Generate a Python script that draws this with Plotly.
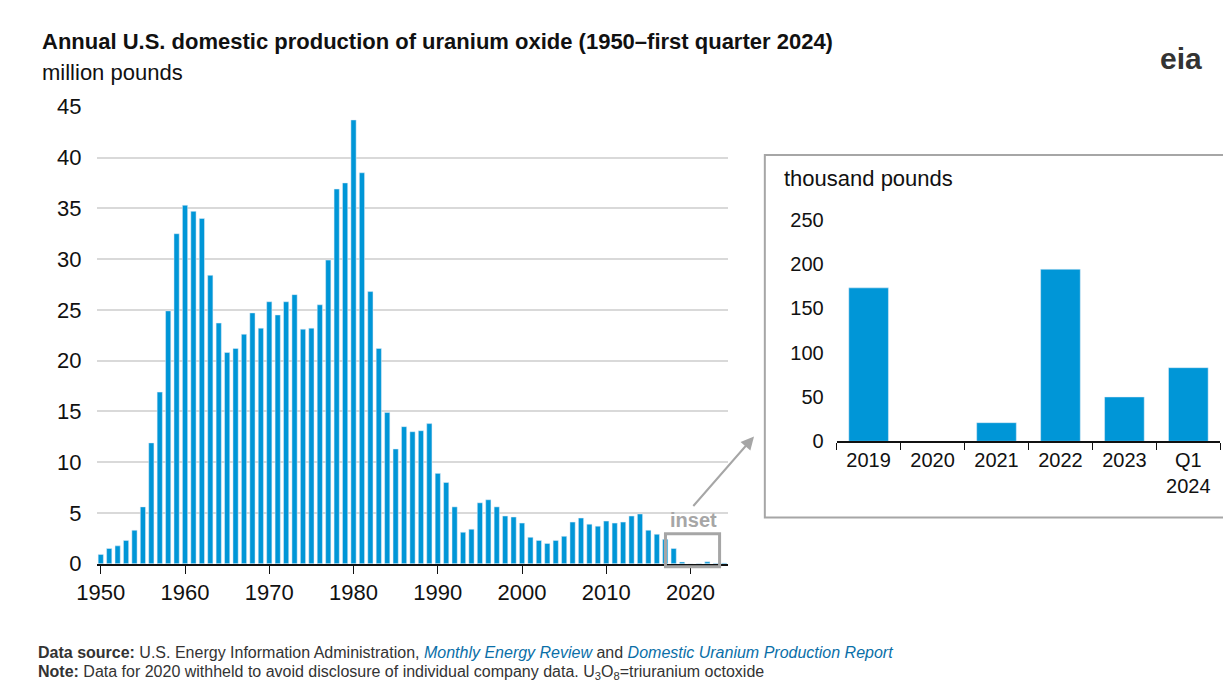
import plotly.graph_objects as go

years = list(range(1950, 2025))
production_million_lb = [0.92, 1.5, 1.76, 2.3, 3.3, 5.6, 11.9, 16.9, 24.9, 32.5,
    35.3, 34.7, 34.0, 28.4, 23.7, 20.8, 21.2, 22.6, 24.7, 23.2,
    25.8, 24.5, 25.8, 26.5, 23.1, 23.2, 25.5, 29.9, 36.9, 37.5,
    43.7, 38.5, 26.8, 21.2, 14.9, 11.3, 13.5, 13.0, 13.1, 13.8,
    8.9, 8.0, 5.6, 3.1, 3.4, 6.0, 6.3, 5.6, 4.7, 4.6,
    4.0, 2.6, 2.3, 2.0, 2.3, 2.7, 4.1, 4.5, 3.9, 3.7,
    4.2, 4.0, 4.1, 4.7, 4.9, 3.3, 2.9, 2.4, 1.5, 0.17,
    0.0, 0.02, 0.19, 0.05, 0.08]
inset_labels = ["2019", "2020", "2021", "2022", "2023", "Q1<br>2024"]
inset_thousand_lb = [173, None, 21, 194, 50, 83]
main_ticks = [1950, 1960, 1970, 1980, 1990, 2000, 2010, 2020]

W, H = 1231, 696
px = lambda x: x / W
py = lambda y: 1 - y / H
blue = "#0096d7"
font = "Liberation Sans, Arial, sans-serif"

fig = go.Figure()
fig.add_bar(x=years, y=production_million_lb, marker_color=blue, width=0.62,
            xaxis="x", yaxis="y", hoverinfo="x+y")
fig.add_bar(x=inset_labels, y=inset_thousand_lb, marker_color=blue, width=0.62,
            xaxis="x2", yaxis="y2")

fig.update_layout(
    width=W, height=H, margin=dict(l=0, r=0, t=0, b=0),
    paper_bgcolor="white", plot_bgcolor="white", showlegend=False,
    font=dict(family=font, color="#111"),
    xaxis=dict(domain=[px(69.7), px(712)], range=[1949.5, 2024.5],
               tickvals=main_ticks, ticks="outside", ticklen=8, tickcolor="#111",
               showline=True, linecolor="#111", linewidth=2, showgrid=False,
               tickfont=dict(size=22), anchor="y"),
    yaxis=dict(domain=[py(564), py(90)], range=[0, 45], dtick=5,
               gridcolor="#d9d9d9", gridwidth=2, showline=False, zeroline=False,
               tickfont=dict(size=22), ticklabelstandoff=14, anchor="x"),
    xaxis2=dict(domain=[px(822), px(1212)], type="category",
                tickson="boundaries", ticks="outside", ticklen=7, tickcolor="#111",
                showline=True, linecolor="#111", linewidth=2, showgrid=False,
                tickfont=dict(size=20), anchor="y2"),
    yaxis2=dict(domain=[py(437), py(207)], range=[0, 250], dtick=50,
                showgrid=False, showline=False, zeroline=False,
                tickfont=dict(size=20), ticklabelstandoff=12, anchor="x2"),
    shapes=[
        dict(type="rect", xref="paper", yref="paper", x0=px(749), x1=px(1223),
             y0=py(516), y1=py(140), line=dict(color="#a6a6a6", width=2)),
        dict(type="rect", xref="paper", yref="paper", x0=px(648), x1=px(703),
             y0=py(567), y1=py(533), line=dict(color="#a6a6a6", width=3)),
    ],
    annotations=[
        dict(text="<b>Annual U.S. domestic production of uranium oxide (1950–first quarter 2024)</b>",
             x=px(12), y=py(22), xref="paper", yref="paper", xanchor="left",
             yanchor="middle", showarrow=False, font=dict(size=22)),
        dict(text="million pounds", x=px(12), y=py(54), xref="paper", yref="paper",
             xanchor="left", yanchor="middle", showarrow=False, font=dict(size=22)),
        dict(text="thousand pounds", x=px(766), y=py(164), xref="paper", yref="paper",
             xanchor="left", yanchor="middle", showarrow=False, font=dict(size=22)),
        dict(text="<b>inset</b>", x=px(676), y=py(519), xref="paper", yref="paper",
             xanchor="center", yanchor="middle", showarrow=False,
             font=dict(size=20, color="#a6a6a6")),
        dict(text="", x=px(738), y=py(432), ax=-62, ay=71,
             xref="paper", yref="paper",
             showarrow=True, arrowhead=2, arrowsize=1.3, arrowwidth=2,
             arrowcolor="#a6a6a6"),
        dict(text="<b>eia</b>", x=px(1172), y=py(40), xref="paper", yref="paper",
             xanchor="center", yanchor="middle", showarrow=False,
             font=dict(size=30, color="#333")),
        dict(text="<b>Data source:</b> U.S. Energy Information Administration, "
                  "<i><span style='color:#0a6fa8'>Monthly Energy Review</span></i> and "
                  "<i><span style='color:#0a6fa8'>Domestic Uranium Production Report</span></i>",
             x=px(8), y=py(656), xref="paper", yref="paper", xanchor="left",
             yanchor="middle", showarrow=False, font=dict(size=16, color="#333")),
        dict(text="<b>Note:</b> Data for 2020 withheld to avoid disclosure of individual company data. "
                  "U<sub>3</sub>O<sub>8</sub>=triuranium octoxide",
             x=px(8), y=py(677), xref="paper", yref="paper", xanchor="left",
             yanchor="middle", showarrow=False, font=dict(size=16, color="#333")),
    ],
)
fig.write_html("out.html")
